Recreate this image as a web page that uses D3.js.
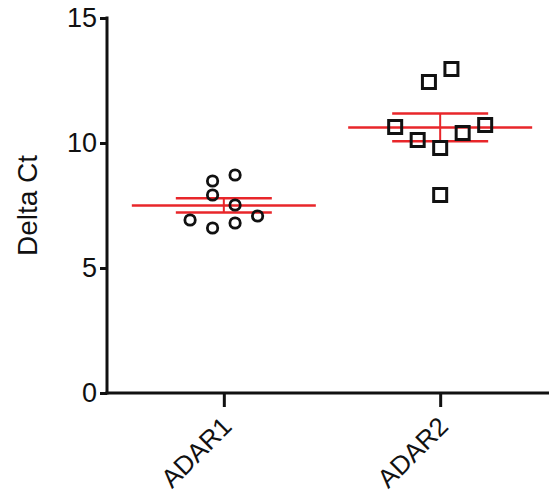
<html><head>
<meta charset="utf-8">
<script src="https://d3js.org/d3.v7.min.js"></script>
<style>
  body { margin: 0; background: #fff; }
  text { font-family: "Liberation Sans", Arial, sans-serif; fill: #111; }
</style>
</head>
<body>
<div id="chart"></div>
<script>
// categories and values
var categories = ["ADAR1", "ADAR2"];
var adar1 = [8.48, 8.72, 7.92, 7.52, 6.92, 6.6, 6.8, 7.08];
var adar2 = [12.44, 12.96, 10.64, 10.12, 9.8, 10.4, 10.72, 7.92];
// horizontal column of each point inside its group (scatter layout)
var adar1Col = [-0.5, 0.5, -0.5, 0.5, -1.5, -0.5, 0.5, 1.5];
var adar2Col = [-0.5, 0.5, -2, -1, 0, 1, 2, 0];
var yTicks = [0, 5, 10, 15];

var width = 549, height = 497;
var margin = {top: 18, right: 0, bottom: 104, left: 107};

var svg = d3.select("#chart").append("svg")
    .attr("width", width)
    .attr("height", height);

var x = d3.scalePoint()
    .domain(categories)
    .range([margin.left, 557])
    .padding(0.54);

var y = d3.scaleLinear()
    .domain([0, 15])
    .range([height - margin.bottom, margin.top]);

var jitter = d3.scaleLinear().domain([-1, 1]).range([-22.5, 22.5]);

// y axis
var yAxis = svg.append("g")
    .attr("transform", "translate(" + margin.left + ",0)")
    .call(d3.axisLeft(y).tickValues(yTicks).tickSize(7).tickPadding(3).tickFormat(d3.format("d")));
yAxis.select(".domain").attr("stroke", "#111").attr("stroke-width", 3)
    .attr("d", "M0," + (y(15) - 1.5) + "V" + (y(0) + 1.5));
yAxis.selectAll(".tick line").attr("stroke", "#111").attr("stroke-width", 3);
yAxis.selectAll(".tick text").style("font-size", "27px").attr("fill", "#111");

// x axis
var xAxis = svg.append("g")
    .attr("transform", "translate(0," + y(0) + ")")
    .call(d3.axisBottom(x).tickSize(14).tickPadding(0));
xAxis.select(".domain").attr("stroke", "#111").attr("stroke-width", 3)
    .attr("d", "M" + (margin.left - 1.5) + ",0H" + width);
xAxis.selectAll(".tick line").attr("stroke", "#111").attr("stroke-width", 3);
xAxis.selectAll(".tick text")
    .style("font-size", "26px")
    .attr("fill", "#111")
    .attr("text-anchor", "end")
    .attr("x", 0).attr("y", 0).attr("dy", 0)
    .attr("transform", "translate(9,35) rotate(-45)");

// y label
svg.append("text")
    .attr("transform", "translate(37," + y(7.5) + ") rotate(-90)")
    .attr("text-anchor", "middle")
    .style("font-size", "28px")
    .text("Delta Ct");

var groups = [
  {name: "ADAR1", values: adar1, cols: adar1Col, shape: "circle"},
  {name: "ADAR2", values: adar2, cols: adar2Col, shape: "square"}
];

var red = "#e8262a";
groups.forEach(function(g) {
  var m = d3.mean(g.values);
  var sem = d3.deviation(g.values) / Math.sqrt(g.values.length);
  var cx = x(g.name);
  var layer = svg.append("g");
  layer.append("line")
    .attr("x1", cx - 92).attr("x2", cx + 92)
    .attr("y1", y(m)).attr("y2", y(m))
    .attr("stroke", red).attr("stroke-width", 2.5);
  [m - sem, m + sem].forEach(function(v) {
    layer.append("line")
      .attr("x1", cx - 48).attr("x2", cx + 48)
      .attr("y1", y(v)).attr("y2", y(v))
      .attr("stroke", red).attr("stroke-width", 2.5);
  });
  layer.append("line")
    .attr("x1", cx).attr("x2", cx)
    .attr("y1", y(m - sem)).attr("y2", y(m + sem))
    .attr("stroke", red).attr("stroke-width", 2);

  var pts = svg.append("g").selectAll(".pt")
    .data(g.values.map(function(v, i) { return {v: v, c: g.cols[i]}; }))
    .enter();
  if (g.shape === "circle") {
    pts.append("circle")
      .attr("cx", function(d) { return cx + jitter(d.c); })
      .attr("cy", function(d) { return y(d.v); })
      .attr("r", 5.2)
      .attr("fill", "none")
      .attr("stroke", "#111")
      .attr("stroke-width", 2.8);
  } else {
    pts.append("rect")
      .attr("x", function(d) { return cx + jitter(d.c) - 6.5; })
      .attr("y", function(d) { return y(d.v) - 6.5; })
      .attr("width", 13).attr("height", 13)
      .attr("fill", "none")
      .attr("stroke", "#111")
      .attr("stroke-width", 3);
  }
});
</script>
</body></html>
